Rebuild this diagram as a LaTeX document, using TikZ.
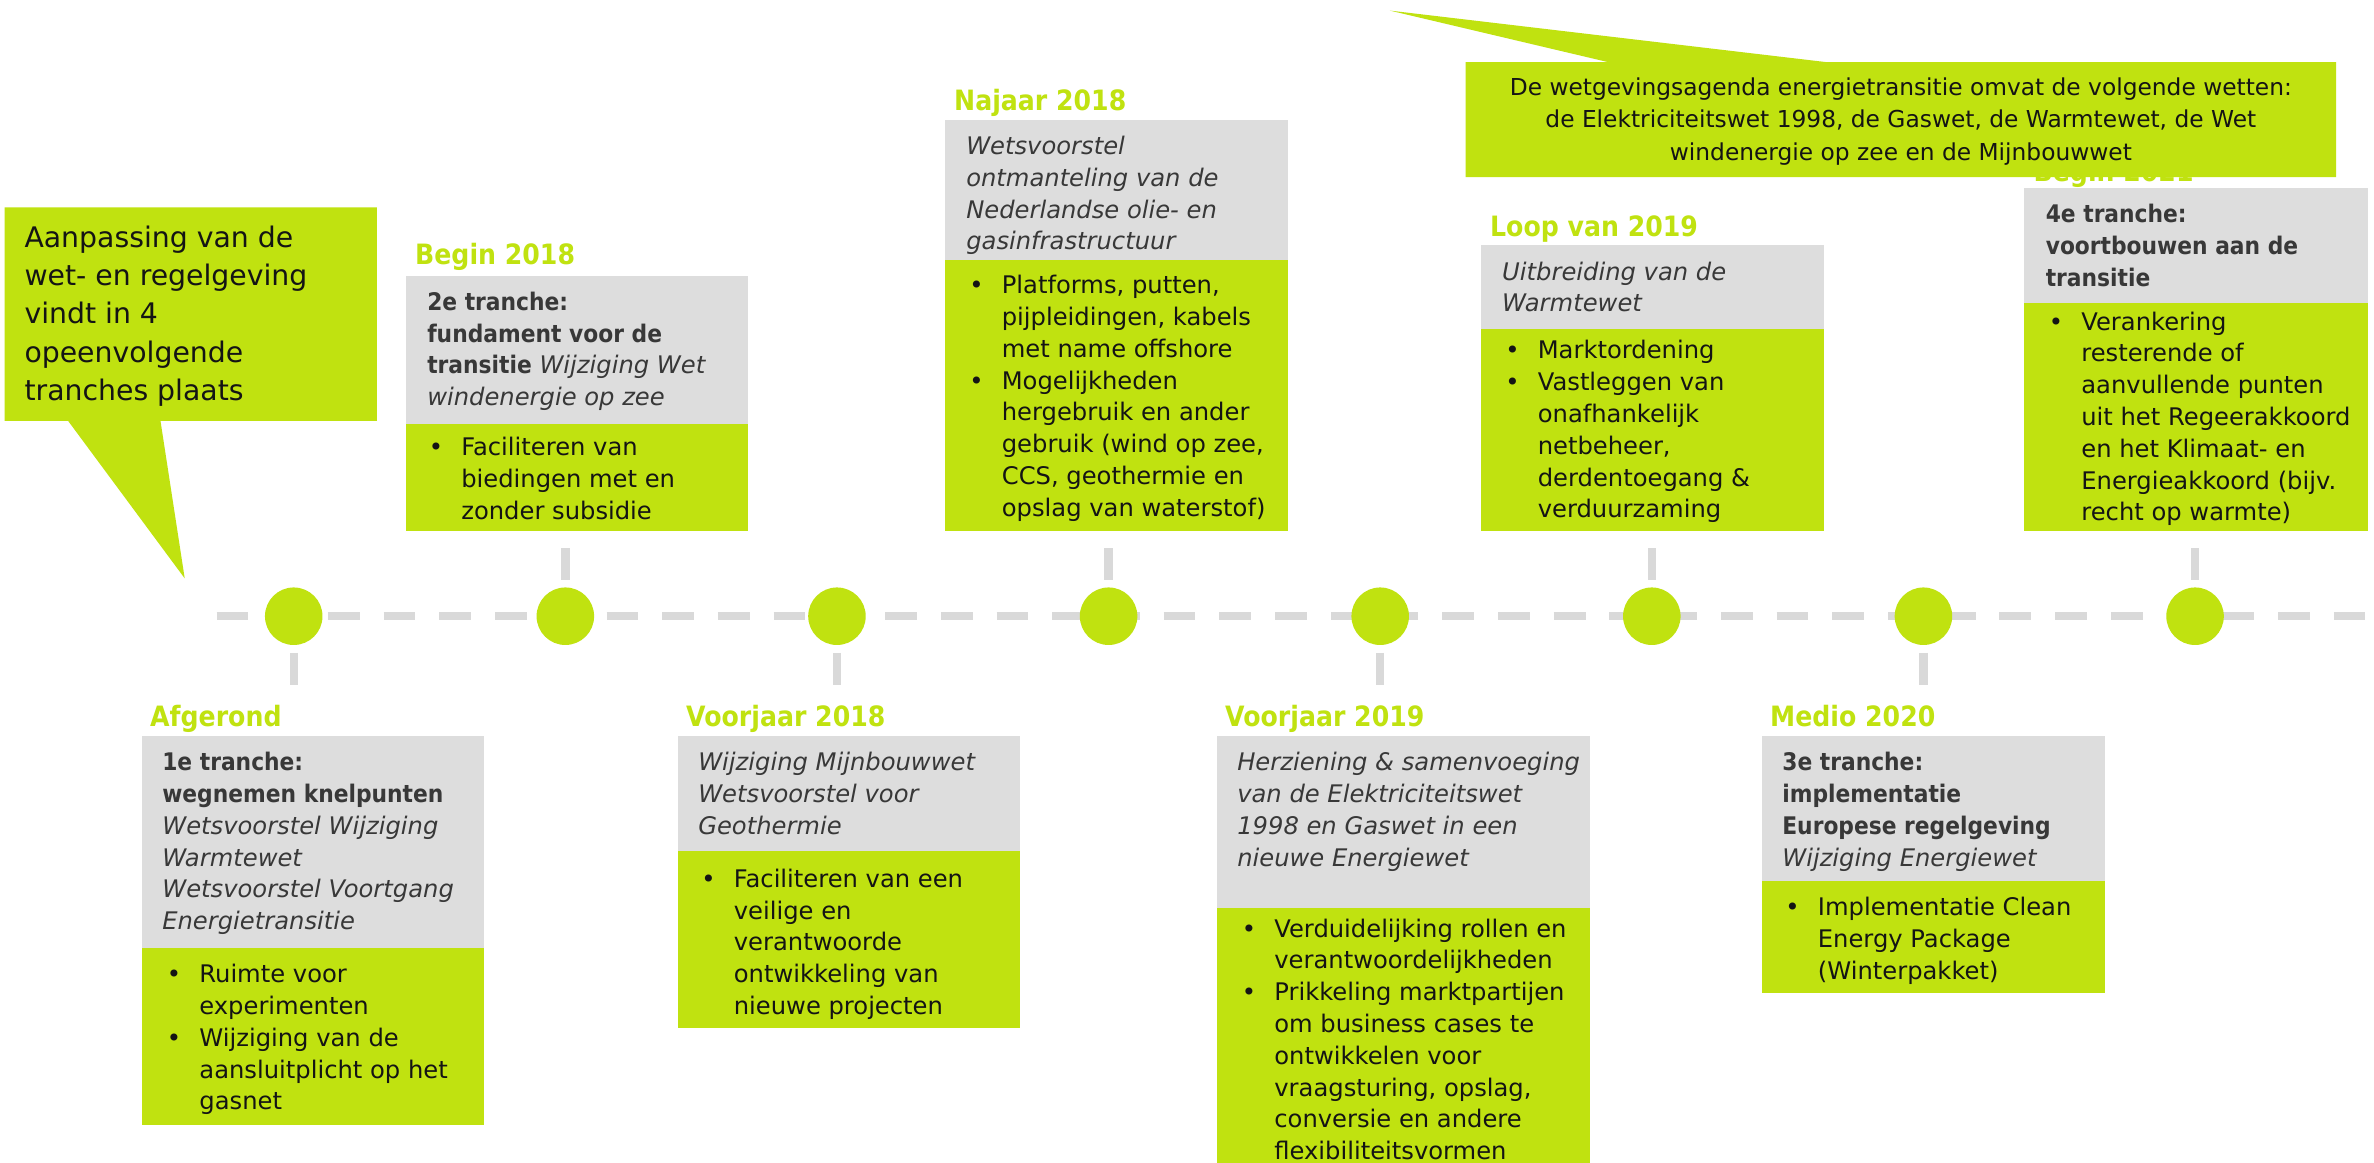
\documentclass[tikz,border=0pt]{standalone}
\usepackage{fontspec}
\setmainfont{DejaVu Sans}[BoldFeatures={FakeStretch=0.9}]
\definecolor{lime}{RGB}{192,226,16}
\definecolor{boxgray}{RGB}{221,221,221}
\definecolor{linegray}{RGB}{217,217,217}
\definecolor{darktxt}{RGB}{56,56,56}
\definecolor{blacktxt}{RGB}{20,20,20}
\newcommand\bul{\makebox[21.5pt][l]{\textbullet}}
\newcommand\ind{\hspace*{21.5pt}}
\newcommand\rows[1]{\begin{tabular}[t]{@{}l@{}}#1\end{tabular}}
\newcommand\crows[1]{\begin{tabular}[t]{@{}c@{}}#1\end{tabular}}
\tikzset{
  head/.style={anchor=base west, inner sep=0pt, text=lime, font=\fontsize{18.5}{22}\selectfont\bfseries},
  graytxt/.style={anchor=base west, inner sep=0pt, text=darktxt, font=\fontsize{16}{21}\selectfont},
  greentxt/.style={anchor=base west, inner sep=0pt, text=blacktxt, font=\fontsize{16}{21}\selectfont},
  graybox/.style={fill=boxgray},
  greenbox/.style={fill=lime},
  dot/.style={circle, fill=lime, minimum size=38pt, inner sep=0pt},
  tl/.style={draw=linegray, line width=5.5pt},
}
\begin{document}
\begin{tikzpicture}[x=1pt,y=-1pt]
\useasboundingbox (0,0) rectangle (1568,768);
\fill[white] (0,0) rectangle (1568,768);

% timeline
\coordinate (tlstart) at (143,407);
\coordinate (tlend) at (1562,407);
\draw[tl, dash pattern=on 21pt off 15.8pt] (tlstart) -- (tlend);
\foreach \i/\x in {1/194,2/373.4,3/552.8,4/732.2,5/911.6,6/1091,7/1270.4,8/1449.8}{
  \node[dot] (c\i) at (\x,407) {};
}
\foreach \i in {1,3,5,7}{
  \draw[tl] ([yshift=-5pt]c\i.south) -- ++(0,21);
}
\foreach \i in {2,4,6,8}{
  \draw[tl] ([yshift=5pt]c\i.north) -- ++(0,-21);
}

% box 1 Afgerond
\fill[graybox] (94,486) rectangle (320,626);
\fill[greenbox] (94,626) rectangle (320,743);
\node[head] (h1) at (99,480) {Afgerond};
\node[graytxt] (g1) at (107,509) {\rows{\textbf{1e tranche:}\\ \textbf{wegnemen knelpunten}\\ \textit{Wetsvoorstel Wijziging}\\ \textit{Warmtewet}\\ \textit{Wetsvoorstel Voortgang}\\ \textit{Energietransitie}}};
\node[greentxt] (b1) at (110,649) {\rows{\bul Ruimte voor\\ \ind experimenten\\ \bul Wijziging van de\\ \ind aansluitplicht op het\\ \ind gasnet}};

% box 2 Begin 2018
\fill[graybox] (268,182) rectangle (494,280);
\fill[greenbox] (268,280) rectangle (494,351);
\node[head] (h2) at (274,175) {Begin 2018};
\node[graytxt] (g2) at (282,205) {\rows{\textbf{2e tranche:}\\ \textbf{fundament voor de}\\ \textbf{transitie} \textit{Wijziging Wet}\\ \textit{windenergie op zee}}};
\node[greentxt] (b2) at (283,301) {\rows{\bul Faciliteren van\\ \ind biedingen met en\\ \ind zonder subsidie}};

% box 3 Voorjaar 2018
\fill[graybox] (448,486) rectangle (674,562);
\fill[greenbox] (448,562) rectangle (674,679);
\node[head] (h3) at (453,480) {Voorjaar 2018};
\node[graytxt] (g3) at (461,509) {\rows{\textit{Wijziging Mijnbouwwet}\\ \textit{Wetsvoorstel voor}\\ \textit{Geothermie}}};
\node[greentxt] (b3) at (463,586) {\rows{\bul Faciliteren van een\\ \ind veilige en\\ \ind verantwoorde\\ \ind ontwikkeling van\\ \ind nieuwe projecten}};

% box 4 Najaar 2018
\fill[graybox] (624,79) rectangle (851,172);
\fill[greenbox] (624,172) rectangle (851,351);
\node[head] (h4) at (630,73) {Najaar 2018};
\node[graytxt] (g4) at (638,102) {\rows{\textit{Wetsvoorstel}\\ \textit{ontmanteling van de}\\ \textit{Nederlandse olie- en}\\ \textit{gasinfrastructuur}}};
\node[greentxt] (b4) at (640,194) {\rows{\bul Platforms, putten,\\ \ind pijpleidingen, kabels\\ \ind met name offshore\\ \bul Mogelijkheden\\ \ind hergebruik en ander\\ \ind gebruik (wind op zee,\\ \ind CCS, geothermie en\\ \ind opslag van waterstof)}};

% box 5 Voorjaar 2019
\fill[graybox] (804,486) rectangle (1050,600);
\fill[greenbox] (804,600) rectangle (1050,775);
\node[head] (h5) at (809,480) {Voorjaar 2019};
\node[graytxt] (g5) at (817,509) {\rows{\textit{Herziening \& samenvoeging}\\ \textit{van de Elektriciteitswet}\\ \textit{1998 en Gaswet in een}\\ \textit{nieuwe Energiewet}}};
\node[greentxt] (b5) at (820,619) {\rows{\bul Verduidelijking rollen en\\ \ind verantwoordelijkheden\\ \bul Prikkeling marktpartijen\\ \ind om business cases te\\ \ind ontwikkelen voor\\ \ind vraagsturing, opslag,\\ \ind conversie en andere\\ \ind flexibiliteitsvormen}};

% box 6 Loop van 2019
\fill[graybox] (978,162) rectangle (1205,217);
\fill[greenbox] (978,217) rectangle (1205,351);
\node[head] (h6) at (984,156) {Loop van 2019};
\node[graytxt] (g6) at (992,185) {\rows{\textit{Uitbreiding van de}\\ \textit{Warmtewet}}};
\node[greentxt] (b6) at (994,237) {\rows{\bul Marktordening\\ \bul Vastleggen van\\ \ind onafhankelijk\\ \ind netbeheer,\\ \ind derdentoegang \&\\ \ind verduurzaming}};

% box 7 Medio 2020
\fill[graybox] (1164,486) rectangle (1390,582);
\fill[greenbox] (1164,582) rectangle (1390,656);
\node[head] (h7) at (1169,480) {Medio 2020};
\node[graytxt] (g7) at (1177,509) {\rows{\textbf{3e tranche:}\\ \textbf{implementatie}\\ \textbf{Europese regelgeving}\\ \textit{Wijziging Energiewet}}};
\node[greentxt] (b7) at (1179,605) {\rows{\bul Implementatie Clean\\ \ind Energy Package\\ \ind (Winterpakket)}};

% box 8 (4e tranche)
\fill[graybox] (1337,124) rectangle (1564,200);
\fill[greenbox] (1337,200) rectangle (1564,351);
\node[head] (h8) at (1343,120) {Begin 2021};
\node[graytxt] (g8) at (1351,147) {\rows{\textbf{4e tranche:}\\ \textbf{voortbouwen aan de}\\ \textbf{transitie}}};
\node[greentxt] (b8) at (1353,218) {\rows{\bul Verankering\\ \ind resterende of\\ \ind aanvullende punten\\ \ind uit het Regeerakkoord\\ \ind en het Klimaat- en\\ \ind Energieakkoord (bijv.\\ \ind recht op warmte)}};

% left callout
\fill[lime] (3,137) -- (249,137) -- (249,278) -- (106,278) -- (122,382) -- (45,278) -- (3,278) -- cycle;
\node[anchor=base west, inner sep=0pt, text=blacktxt, font=\fontsize{18.7}{25.2}\selectfont] (lc) at (16,163.5)
  {\rows{Aanpassing van de\\ wet- en regelgeving\\ vindt in 4\\ opeenvolgende\\ tranches plaats}};

% top callout
\fill[lime] (968,41) -- (1062,41) -- (918,7) -- (1206,41) -- (1543,41) -- (1543,117) -- (968,117) -- cycle;
\node[anchor=base, inner sep=0pt, text=blacktxt, font=\fontsize{15.4}{21.5}\selectfont] (tc) at (1255.5,63)
  {\crows{De wetgevingsagenda energietransitie omvat de volgende wetten:\\ de Elektriciteitswet 1998, de Gaswet, de Warmtewet, de Wet\\ windenergie op zee en de Mijnbouwwet}};
\end{tikzpicture}
\end{document}
